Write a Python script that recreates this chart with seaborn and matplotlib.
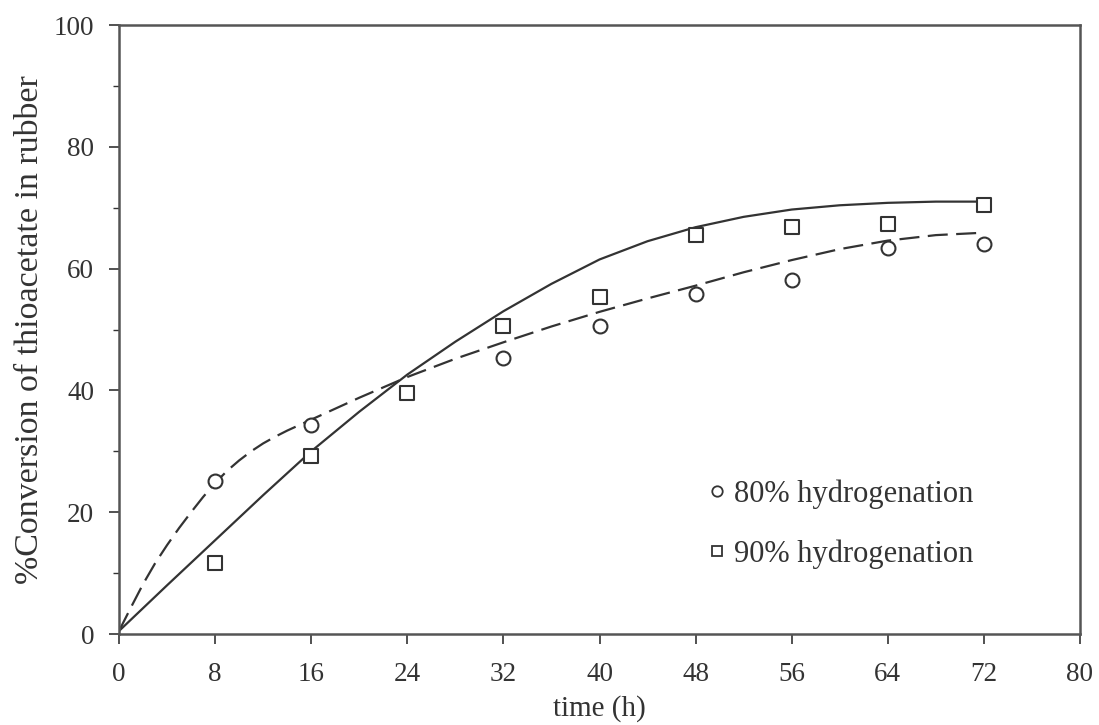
import numpy as np
import pandas as pd
import matplotlib
matplotlib.use("Agg")
import matplotlib.pyplot as plt
from matplotlib.lines import Line2D
from matplotlib.ticker import MultipleLocator
import seaborn as sns

# measured points
time_80 = [8, 16, 32, 40, 48, 56, 64, 72]
conv_80 = [25.1, 34.3, 45.3, 50.6, 55.8, 58.2, 63.4, 64.1]
time_90 = [8, 16, 24, 32, 40, 48, 56, 64, 72]
conv_90 = [11.7, 29.2, 39.6, 50.6, 55.3, 65.5, 66.8, 67.3, 70.4]

# fitted trend curves
fit_t_80 = [0, 1, 2, 3, 4, 5, 6, 7, 8, 9, 10, 11, 12, 13, 14, 15, 16, 18, 20, 22, 24, 28, 32,
            36, 40, 44, 48, 52, 56, 60, 64, 68, 72]
fit_y_80 = [0.5, 4.4, 8.2, 11.6, 14.6, 17.4, 20.0, 22.5, 24.8, 26.8, 28.5, 30.0, 31.3, 32.4,
            33.4, 34.3, 35.2, 37.0, 38.8, 40.5, 42.2, 45.2, 47.9, 50.5, 52.9, 55.1, 57.2, 59.4,
            61.4, 63.2, 64.6, 65.5, 65.9]
fit_t_90 = [0, 4, 8, 12, 16, 20, 24, 28, 32, 36, 40, 44, 48, 52, 56, 60, 64, 68, 72]
fit_y_90 = [0.5, 8.0, 15.4, 22.8, 30.0, 36.5, 42.6, 48.0, 53.0, 57.5, 61.5, 64.5, 66.8, 68.5,
            69.7, 70.4, 70.8, 71.0, 71.0]

x_ticks = [0, 8, 16, 24, 32, 40, 48, 56, 64, 72, 80]
y_ticks = [0, 20, 40, 60, 80, 100]
labels = ["80% hydrogenation", "90% hydrogenation"]

sns.set_theme(style="white")
plt.rcParams['font.family'] = ['Liberation Serif', 'DejaVu Serif']
ink = "#333333"
plt.rcParams['text.color'] = ink
plt.rcParams['axes.labelcolor'] = ink
plt.rcParams['xtick.color'] = ink
plt.rcParams['ytick.color'] = ink

fig = plt.figure(figsize=(10.99, 7.25), dpi=100)
ax = fig.add_axes([0.1083, 0.1255, 0.8744, 0.84])

df80 = pd.DataFrame({"t": fit_t_80, "y": fit_y_80})
df90 = pd.DataFrame({"t": fit_t_90, "y": fit_y_90})
sns.lineplot(data=df90, x="t", y="y", ax=ax, color=ink, lw=1.6, estimator=None, sort=True)
sns.lineplot(data=df80, x="t", y="y", ax=ax, color=ink, lw=1.6, estimator=None, sort=True,
             linestyle=(0, (9, 3.8)))

p80 = pd.DataFrame({"t": time_80, "y": conv_80})
p90 = pd.DataFrame({"t": time_90, "y": conv_90})
sns.scatterplot(data=p80, x="t", y="y", ax=ax, marker="o", s=100, facecolor="white",
                edgecolor=ink, linewidth=1.5, zorder=3)
sns.scatterplot(data=p90, x="t", y="y", ax=ax, marker="s", s=100, facecolor="white",
                edgecolor=ink, linewidth=1.5, zorder=3)

ax.set_xlim(0, 80)
ax.set_ylim(0, 100)
ax.set_xticks(x_ticks)
ax.set_yticks(y_ticks)
ax.yaxis.set_minor_locator(MultipleLocator(10))
ax.tick_params(axis="both", which="major", direction="out", length=7, width=1.2,
               labelsize=19.5, bottom=True, left=True)
ax.tick_params(axis="x", which="major", pad=13)
ax.tick_params(axis="y", which="major", pad=11)
ax.tick_params(axis="y", which="minor", direction="out", length=4, width=1.0, left=True)
for sp in ax.spines.values():
    sp.set_color("#555555")
    sp.set_linewidth(1.8)

ax.set_xlabel("time (h)", fontsize=21, labelpad=6)
ax.set_ylabel("%Conversion of thioacetate in rubber", fontsize=24.5, labelpad=6)

handles = [
    Line2D([], [], marker="o", ls="none", markersize=7.5, markerfacecolor="white",
           markeredgecolor=ink, markeredgewidth=1.3),
    Line2D([], [], marker="s", ls="none", markersize=7.5, markerfacecolor="white",
           markeredgecolor=ink, markeredgewidth=1.3),
]
ax.legend(handles, labels, loc="center left", bbox_to_anchor=(0.578, 0.18), frameon=False,
          fontsize=22, handletextpad=0.05, labelspacing=1.0, handlelength=1.0)

fig.savefig("out.png", dpi=100)
